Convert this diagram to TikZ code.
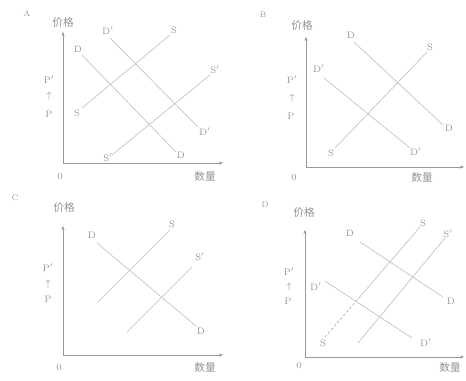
\documentclass[tikz,border=0pt]{standalone}
\usepackage{fontspec}
\newfontfamily\cjk{Noto Sans CJK SC}
\usetikzlibrary{arrows.meta}
\begin{document}
\begin{tikzpicture}[x=0.75pt,y=-0.75pt,
  axis/.style={draw=black!40,line width=0.6pt,-{Stealth[length=3pt,width=2.5pt]}},
  curve/.style={draw=black!24,line width=0.5pt},
  dcurve/.style={draw=black!32,line width=0.5pt,dash pattern=on 2pt off 1.5pt},
  lbl/.style={text=black!42,inner sep=0pt,font=\fontsize{7}{8}\selectfont},
  cj/.style={text=black!42,inner sep=0pt,font=\cjk\fontsize{8}{9}\selectfont},
  pan/.style={text=black!40,inner sep=0pt,font=\fontsize{6}{7}\selectfont}]
\useasboundingbox[fill=white] (0,0) rectangle (466,380);

% ---------- Panel A ----------
\node[pan] (pA) at (27,14) {A};
\node[cj] (yA) at (63,22) {价格};
\node[cj] (xA) at (205,176) {数量};
\node[lbl] (oA) at (60,176) {0};
\coordinate (A0) at (63,163);
\coordinate (Ay) at (63,32);
\coordinate (Ax) at (223,163);
\draw[axis] (A0) -- (Ay);
\draw[axis] (A0) -- (Ax);
\coordinate (AD1) at (82,55);   \coordinate (AD2) at (176,152);
\coordinate (ADp1) at (110,38); \coordinate (ADp2) at (198,127);
\coordinate (AS1) at (82,108);  \coordinate (AS2) at (170,35);
\coordinate (ASp1) at (112,155);\coordinate (ASp2) at (210,75);
\draw[curve] (AD1) -- (AD2);
\draw[curve] (ADp1) -- (ADp2);
\draw[curve] (AS1) -- (AS2);
\draw[curve] (ASp1) -- (ASp2);
\node[lbl] (lAD1) at (78,49) {D};
\node[lbl] (lAD2) at (181,155) {D};
\node[lbl] (lADp1) at (108,31) {D$'$};
\node[lbl] (lADp2) at (205,132) {D$'$};
\node[lbl] (lAS1) at (77,113) {S};
\node[lbl] (lAS2) at (174,30) {S};
\node[lbl] (lASp1) at (108,158) {S$'$};
\node[lbl] (lASp2) at (215,70) {S$'$};
\node[lbl] (pA1) at (49,80) {P$'$};
\node[lbl] (pA2) at (49,96) {$\uparrow$};
\node[lbl] (pA3) at (49,114) {P};

% ---------- Panel B ----------
\node[pan] (pB) at (263,15) {B};
\node[cj] (yB) at (302,25) {价格};
\node[cj] (xB) at (422,177) {数量};
\node[lbl] (oB) at (294,177) {0};
\coordinate (B0) at (306,167);
\coordinate (By) at (306,37);
\coordinate (Bx) at (464,167);
\draw[axis] (B0) -- (By);
\draw[axis] (B0) -- (Bx);
\coordinate (BD1) at (354,42);  \coordinate (BD2) at (443,125);
\coordinate (BDp1) at (324,78); \coordinate (BDp2) at (410,148);
\coordinate (BS1) at (335,148); \coordinate (BS2) at (427,52);
\draw[curve] (BD1) -- (BD2);
\draw[curve] (BDp1) -- (BDp2);
\draw[curve] (BS1) -- (BS2);
\node[lbl] (lBD1) at (351,35) {D};
\node[lbl] (lBD2) at (449,128) {D};
\node[lbl] (lBDp1) at (319,69) {D$'$};
\node[lbl] (lBDp2) at (416,152) {D$'$};
\node[lbl] (lBS1) at (331,153) {S};
\node[lbl] (lBS2) at (430,47) {S};
\node[lbl] (pB1) at (292,80) {P$'$};
\node[lbl] (pB2) at (292,98) {$\uparrow$};
\node[lbl] (pB3) at (291,116) {P};

% ---------- Panel C ----------
\node[pan] (pC) at (15,198) {C};
\node[cj] (yC) at (64,207) {价格};
\node[cj] (xC) at (205,367) {数量};
\node[lbl] (oC) at (59,367) {0};
\coordinate (C0) at (63,355);
\coordinate (Cy) at (63,226);
\coordinate (Cx) at (223,355);
\draw[axis] (C0) -- (Cy);
\draw[axis] (C0) -- (Cx);
\coordinate (CD1) at (97,243);  \coordinate (CD2) at (196,326);
\coordinate (CS1) at (97,303);  \coordinate (CS2) at (170,230);
\coordinate (CSp1) at (127,332);\coordinate (CSp2) at (192,267);
\draw[curve] (CD1) -- (CD2);
\draw[curve] (CS1) -- (CS2);
\draw[curve] (CSp1) -- (CSp2);
\node[lbl] (lCD1) at (92,235) {D};
\node[lbl] (lCD2) at (201,331) {D};
\node[lbl] (lCS2) at (172,224) {S};
\node[lbl] (lCSp2) at (200,257) {S$'$};
\node[lbl] (pC1) at (48,268) {P$'$};
\node[lbl] (pC2) at (48,284) {$\uparrow$};
\node[lbl] (pC3) at (48,299) {P};

% ---------- Panel D ----------
\node[pan] (pD) at (265,205) {D};
\node[cj] (yD) at (304,212) {价格};
\node[cj] (xD) at (450,367) {数量};
\node[lbl] (oD) at (299,365) {0};
\coordinate (D0) at (305,357);
\coordinate (Dy) at (305,230);
\coordinate (Dx) at (464,357);
\draw[axis] (D0) -- (Dy);
\draw[axis] (D0) -- (Dx);
\coordinate (DD1) at (360,242);  \coordinate (DD2) at (443,297);
\coordinate (DDp1) at (325,281); \coordinate (DDp2) at (412,338);
\coordinate (DS1) at (325,337);  \coordinate (DSm) at (358,299); \coordinate (DS2) at (420,227);
\coordinate (DSp1) at (358,343); \coordinate (DSp2) at (445,238);
\draw[curve] (DD1) -- (DD2);
\draw[curve] (DDp1) -- (DDp2);
\draw[dcurve] (DS1) -- (DSm);
\draw[curve] (DSm) -- (DS2);
\draw[curve] (DSp1) -- (DSp2);
\node[lbl] (lDD1) at (350,233) {D};
\node[lbl] (lDD2) at (451,301) {D};
\node[lbl] (lDDp1) at (316,287) {D$'$};
\node[lbl] (lDDp2) at (426,343) {D$'$};
\node[lbl] (lDS1) at (323,343) {S};
\node[lbl] (lDS2) at (423,223) {S};
\node[lbl] (lDSp2) at (448,234) {S$'$};
\node[lbl] (pD1) at (289,272) {P$'$};
\node[lbl] (pD2) at (289,287) {$\uparrow$};
\node[lbl] (pD3) at (288,301) {P};
\end{tikzpicture}
\end{document}
